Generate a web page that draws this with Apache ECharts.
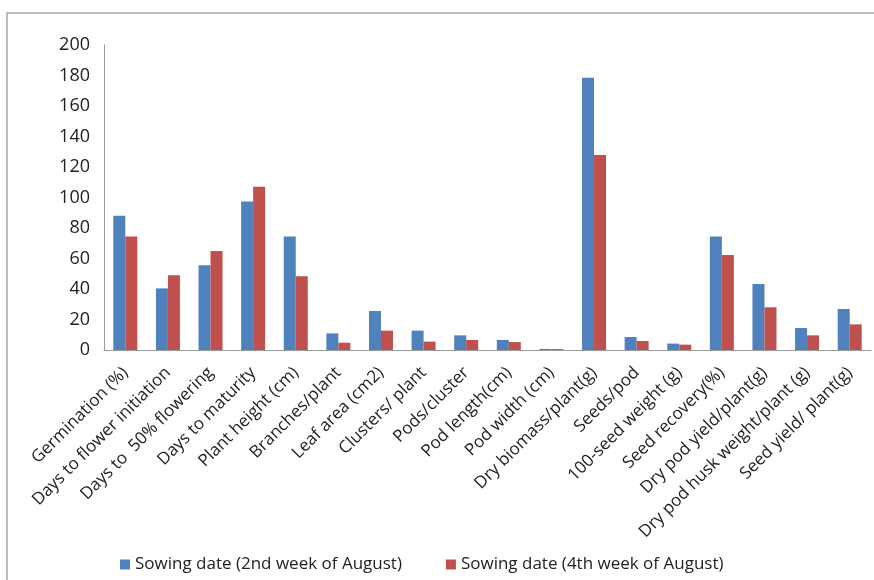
<!DOCTYPE html>
<html>
<head>
<meta charset="utf-8">
<script src="https://cdn.jsdelivr.net/npm/echarts@6/dist/echarts.min.js"></script>
<style>
  html, body { margin: 0; padding: 0; background: #fff; }
  #chart { width: 874px; height: 580px; }
</style>
</head>
<body>
<div id="chart"></div>
<script>
var categories = ['Germination (%)', 'Days to flower initiation', 'Days to  50% flowering', 'Days to maturity',
    'Plant height (cm)', 'Branches/plant', 'Leaf area (cm2)', 'Clusters/ plant', 'Pods/cluster',
    'Pod length(cm)', 'Pod width (cm)', 'Dry biomass/plant(g)', 'Seeds/pod', '100-seed weight (g)',
    'Seed recovery(%)', 'Dry pod yield/plant(g)', 'Dry pod husk weight/plant (g)', 'Seed yield/ plant(g)'];
// 2nd week of August
var secondWeek = [88.1, 40.4, 55.5, 97.3, 74.5, 10.9, 25.6, 12.7, 9.6, 6.6, 0.7, 178.6, 8.5, 4.2, 74.5, 43.3, 14.4, 26.9];
// 4th week of August
var fourthWeek = [74.5, 49.0, 64.9, 107.1, 48.3, 4.8, 12.7, 5.5, 6.6, 5.2, 0.6, 127.9, 5.9, 3.5, 62.3, 28.0, 9.6, 16.8];
var seriesNames = ['Sowing date (2nd week of August)', 'Sowing date (4th week of August)'];
var yTicks = { min: 0, max: 200, interval: 20 };

var myChart = echarts.init(document.getElementById('chart'));
var font = '"Open Sans", "Liberation Sans", sans-serif';

var option = {
    animation: false,
    color: ['#4f81bd', '#c0504d'],
    textStyle: { fontFamily: font },
    graphic: [{
        type: 'rect',
        shape: { x: 7, y: 13, width: 900, height: 600 },
        style: { fill: 'none', stroke: '#bcbcbc', lineWidth: 2 },
        silent: true
    }],
    grid: { left: 104, right: 3, top: 45, bottom: 230 },
    legend: {
        bottom: 2,
        left: 115,
        itemWidth: 10,
        itemHeight: 10,
        itemGap: 44,
        icon: 'rect',
        textStyle: { fontSize: 17, color: '#222', fontFamily: font },
        data: seriesNames
    },
    xAxis: {
        type: 'category',
        data: categories,
        axisLine: { lineStyle: { color: '#9a9a9a', width: 1 } },
        axisTick: { show: false },
        axisLabel: {
            interval: 0,
            rotate: 45,
            margin: 20,
            fontSize: 17,
            color: '#222',
            fontFamily: font
        }
    },
    yAxis: {
        type: 'value',
        min: yTicks.min,
        max: yTicks.max,
        interval: yTicks.interval,
        axisLine: { show: true, lineStyle: { color: '#9a9a9a', width: 1 } },
        axisTick: { show: false },
        splitLine: { show: false },
        axisLabel: { fontSize: 18, color: '#222', margin: 14, fontFamily: font }
    },
    series: [
        { name: seriesNames[0], type: 'bar', barWidth: 12, barGap: '0%', data: secondWeek },
        { name: seriesNames[1], type: 'bar', barWidth: 12, barGap: '0%', data: fourthWeek }
    ]
};

myChart.setOption(option);
</script>
</body>
</html>
